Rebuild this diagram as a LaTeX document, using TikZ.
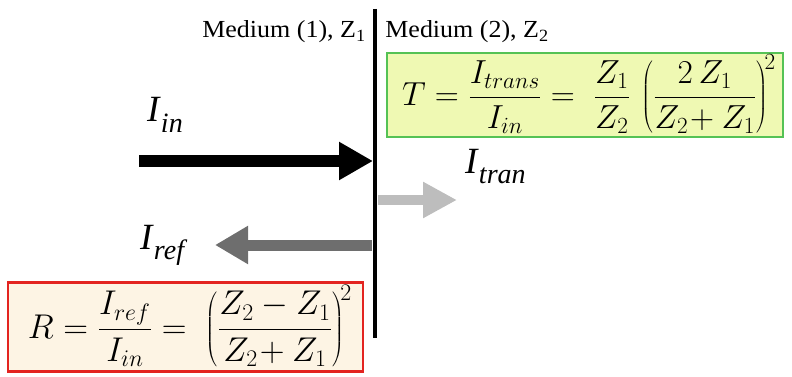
\documentclass[tikz,border=0pt]{standalone}
\usepackage{fontspec}
\setmainfont{Liberation Serif}
\usetikzlibrary{arrows.meta}
\definecolor{boxgreen}{HTML}{55C255}
\definecolor{fillgreen}{HTML}{EFF9B3}
\definecolor{boxred}{HTML}{E32420}
\definecolor{fillred}{HTML}{FDF4E4}
\definecolor{trangray}{HTML}{BDBDBD}
\definecolor{refgray}{HTML}{6E6E6E}
\newcommand{\intlbl}[2]{\fontsize{37}{37}\selectfont\textit{#1}\raisebox{-10pt}{\fontsize{28}{28}\selectfont\textit{#2}}}
\newcommand{\medlbl}[1]{\scalebox{1.06}[1]{\fontsize{24.5}{25}\selectfont #1}}
\begin{document}
\begin{tikzpicture}[x=1pt,y=-1pt,
  medium/.style={inner sep=0pt, anchor=base},
  intensity/.style={inner sep=0pt, anchor=base west},
  eqbox/.style={line width=2.5pt, inner sep=0pt},
  eqn/.style={inner sep=0pt}]
\useasboundingbox (0,0) rectangle (792,377);
% interface
\coordinate (top) at (375,9);
\coordinate (bot) at (375,338);
\draw[line width=4.5pt] (top) -- (bot);
% medium labels
\node[medium] (m1) at (284,38) {\medlbl{Medium (1), Z\textsubscript{1}}};
\node[medium] (m2) at (467,38) {\medlbl{Medium (2), Z\textsubscript{2}}};
% boxes
\node[eqbox, draw=boxgreen, fill=fillgreen, minimum width=396pt, minimum height=84pt] (T) at (585,95) {};
\node[eqn] (Teq) at (589,94)
 {\scalebox{1.34}{\fontsize{24}{28}\selectfont $\displaystyle T=\frac{I_{trans}}{I_{in}}=\;\frac{Z_1}{Z_2}\,\left(\frac{2\,Z_1}{Z_2\!+Z_1}\right)^{\!2}$}};
\node[eqbox, draw=boxred, fill=fillred, minimum width=355pt, minimum height=89pt] (R) at (185.5,327) {};
\node[eqn] (Req) at (190,326)
 {\scalebox{1.38}{\fontsize{24}{28}\selectfont $\displaystyle R=\frac{I_{ref}}{I_{in}}=\;\left(\frac{Z_2-Z_1}{Z_2\!+Z_1}\right)^{\!2}$}};
% arrows
\coordinate (inS) at (139,161);
\coordinate (inE) at (373,161);
\coordinate (trS) at (378,200);
\coordinate (trE) at (457,200);
\coordinate (rfS) at (372,245);
\coordinate (rfE) at (215,245);
\draw[line width=12pt, -{Triangle[length=34pt,width=36pt]}] (inS) -- (inE);
\draw[trangray, line width=10pt, -{Triangle[length=34pt,width=34pt]}] (trS) -- (trE);
\draw[refgray, line width=11pt, -{Triangle[length=33pt,width=36pt]}] (rfS) -- (rfE);
% labels
\node[intensity] (lin) at (147,122) {\intlbl{I}{in}};
\node[intensity] (ltr) at (465,173) {\intlbl{I}{tran}};
\node[intensity] (lrf) at (140,249) {\intlbl{I}{ref}};
\end{tikzpicture}
\end{document}
